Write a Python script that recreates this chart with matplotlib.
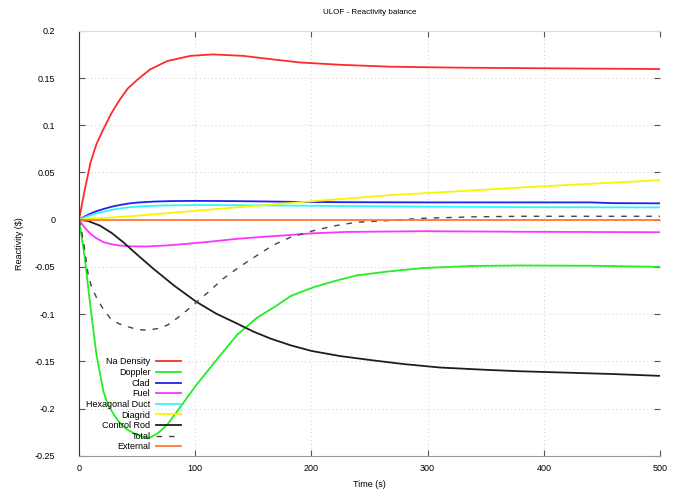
import matplotlib
matplotlib.use("Agg")
import matplotlib.pyplot as plt

plt.rcParams['font.family'] = ['Liberation Sans', 'DejaVu Sans']

# time points (s) and reactivity ($)
t_na = [0, 5, 10, 15, 21, 28, 35, 42, 50, 61, 76, 96, 115, 141, 165, 190, 225, 268, 325, 379, 440, 500]
na_density = [0, 0.032, 0.061, 0.080, 0.096, 0.113, 0.127, 0.139, 0.148, 0.159, 0.168, 0.1735, 0.175,
              0.1735, 0.170, 0.1665, 0.164, 0.162, 0.161, 0.1605, 0.160, 0.1595]

t_dop = [0, 2.5, 5, 7.5, 10, 15, 21, 25, 30, 35, 41, 50, 60, 68, 76, 88, 101, 118, 136, 153, 170,
         182, 190, 202, 220, 239, 265, 296, 340, 379, 440, 500]
doppler = [0, -0.02, -0.041, -0.068, -0.094, -0.143, -0.182, -0.196, -0.2065, -0.215, -0.222, -0.228,
           -0.2315, -0.226, -0.217, -0.197, -0.175, -0.149, -0.122, -0.104, -0.091, -0.081, -0.077,
           -0.0715, -0.065, -0.059, -0.055, -0.0512, -0.049, -0.0485, -0.0488, -0.050]

t_clad = [0, 5, 10, 15, 21, 28, 35, 42, 50, 65, 80, 101, 130, 160, 190, 230, 300, 440, 460, 500]
clad = [0, 0.0035, 0.0065, 0.009, 0.0113, 0.0137, 0.0155, 0.017, 0.0181, 0.0192, 0.0197, 0.0199,
        0.0197, 0.0193, 0.0188, 0.0185, 0.0183, 0.0183, 0.0175, 0.0173]

t_fuel = [0, 3, 6, 10, 15, 21, 28, 35, 45, 58, 75, 93, 115, 136, 160, 181, 200, 230, 296, 379, 500]
fuel = [0, -0.0055, -0.010, -0.0151, -0.0197, -0.0238, -0.026, -0.0274, -0.0282, -0.0284, -0.0273,
        -0.0256, -0.023, -0.0203, -0.018, -0.0163, -0.0145, -0.013, -0.0122, -0.0128, -0.0133]

t_hex = [0, 5, 10, 15, 21, 28, 35, 42, 50, 70, 101, 150, 190, 300, 400, 500]
hex_duct = [0, 0.0026, 0.0048, 0.0067, 0.0084, 0.0103, 0.0118, 0.013, 0.0139, 0.015, 0.0155, 0.0152,
            0.0148, 0.0138, 0.0132, 0.013]

t_diag = [0, 10, 21, 50, 101, 190, 268, 325, 379, 440, 500]
diagrid = [0, 0.0008, 0.0017, 0.0042, 0.0095, 0.0185, 0.026, 0.030, 0.034, 0.038, 0.0418]

t_rod = [0, 8, 18, 28, 38, 50, 64, 82, 101, 118, 136, 150, 165, 182, 200, 225, 253, 280, 311, 350,
         379, 420, 460, 500]
control_rod = [0, -0.0015, -0.0063, -0.014, -0.0238, -0.037, -0.052, -0.070, -0.087, -0.0995, -0.110,
               -0.1185, -0.126, -0.133, -0.139, -0.1445, -0.149, -0.153, -0.1566, -0.159, -0.1605,
               -0.162, -0.1635, -0.1654]

t_tot = [0, 2, 4, 6, 8, 11, 15.5, 21, 27, 34, 41, 50, 58, 67, 76, 87, 98, 111, 124, 138, 153, 167,
         182, 202, 220, 239, 265, 296, 340, 379, 500]
total = [0, -0.011, -0.024, -0.042, -0.059, -0.072, -0.0836, -0.095, -0.1046, -0.110, -0.113, -0.1162,
         -0.117, -0.1155, -0.1117, -0.102, -0.0906, -0.077, -0.0625, -0.050, -0.038, -0.027, -0.0186,
         -0.0116, -0.0065, -0.0027, -0.001, 0.0015, 0.003, 0.0036, 0.0036]

t_ext = [0, 500]
external = [0, 0]

fig = plt.figure(figsize=(6.89, 4.97), dpi=100)
ax = fig.add_axes([0.1147, 0.083, 0.8433, 0.855])

lw = 1.3
ax.plot(t_na, na_density, color="#ff2a2a", lw=lw, label="Na Density")
ax.plot(t_dop, doppler, color="#22ee22", lw=lw, label="Doppler")
ax.plot(t_clad, clad, color="#2222ee", lw=lw, label="Clad")
ax.plot(t_fuel, fuel, color="#ff33ff", lw=lw, label="Fuel")
ax.plot(t_hex, hex_duct, color="#33f5ff", lw=lw, label="Hexagonal Duct")
ax.plot(t_diag, diagrid, color="#f5f500", lw=lw, label="Diagrid")
ax.plot(t_rod, control_rod, color="#1e1e1e", lw=lw, label="Control Rod")
ax.plot(t_tot, total, color="#444444", lw=1.0, ls=(0, (4, 5)), label="Total")
ax.plot(t_ext, external, color="#ff7733", lw=lw, label="External")

ax.set_xlim(0, 500)
ax.set_ylim(-0.25, 0.2)
ax.set_xticks([0, 100, 200, 300, 400, 500])
ax.set_yticks([0.2, 0.15, 0.1, 0.05, 0, -0.05, -0.1, -0.15, -0.2, -0.25])
ax.set_yticklabels(["0.2", "0.15", "0.1", "0.05", "0", "-0.05", "-0.1", "-0.15", "-0.2", "-0.25"])
ax.grid(True, color="#cccccc", ls=(0, (1, 3)), lw=0.7)
ax.tick_params(direction="in", length=4, width=0.8, labelsize=6.5, color="#555555",
               top=True, right=True)
ax.tick_params(axis="x", pad=6)
ax.tick_params(axis="y", pad=17)

ax.spines["left"].set_color("#333333")
ax.spines["bottom"].set_color("#999999")
ax.spines["top"].set_color("#dddddd")
ax.spines["right"].set_visible(False)

ax.set_title("ULOF - Reactivity balance", fontsize=5.8, pad=12)
ax.set_xlabel("Time (s)", fontsize=6.5, labelpad=5)
ax.set_ylabel("Reactivity (\\$)", fontsize=6.5, labelpad=8)

ax.legend(loc="lower left", bbox_to_anchor=(0.012, 0.01), frameon=False,
          markerfirst=False, fontsize=6.5, handlelength=2.8, handletextpad=0.6,
          labelspacing=0.18, borderpad=0, borderaxespad=0)

fig.savefig("out.png", dpi=100)
